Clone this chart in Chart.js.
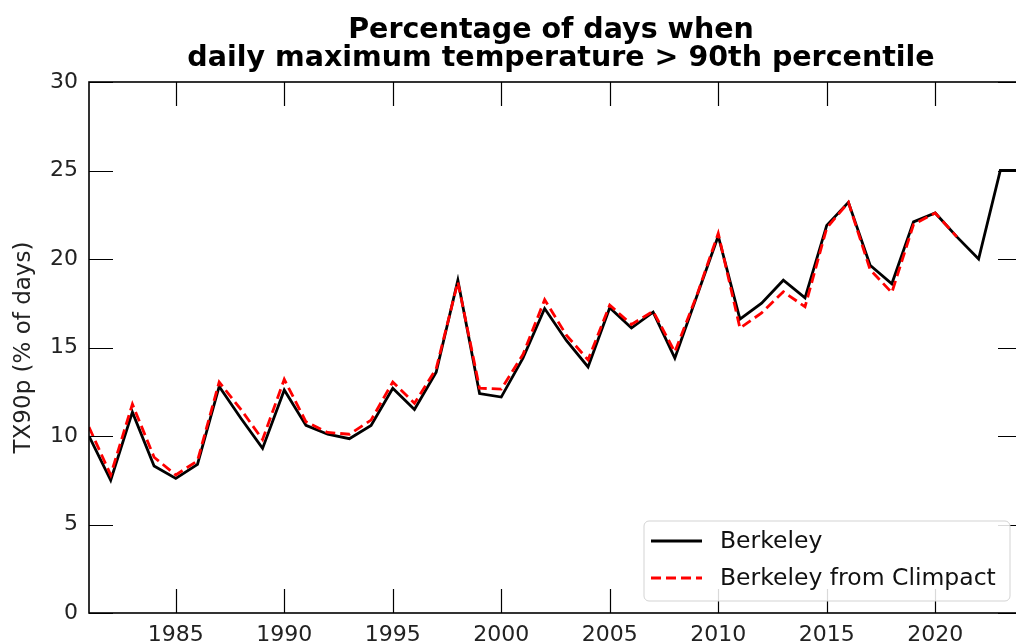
<!DOCTYPE html>
<html>
<head>
<meta charset="utf-8">
<script src="https://cdn.jsdelivr.net/npm/chart.js@4/dist/chart.umd.min.js"></script>
<style>
  html, body { margin: 0; padding: 0; background: #fff; overflow: hidden; }
  #wrap { width: 1040px; height: 643px; }
</style>
</head>
<body>
<div id="wrap"><canvas id="chart" width="1040" height="643"></canvas></div>
<script>
// Données
const years = [1981, 1982, 1983, 1984, 1985, 1986, 1987, 1988, 1989, 1990,
               1991, 1992, 1993, 1994, 1995, 1996, 1997, 1998, 1999, 2000,
               2001, 2002, 2003, 2004, 2005, 2006, 2007, 2008, 2009, 2010,
               2011, 2012, 2013, 2014, 2015, 2016, 2017, 2018, 2019, 2020,
               2021, 2022, 2023, 2024];
const berkeley = [10.0, 7.5, 11.35, 8.3, 7.6, 8.4, 12.8, 11.0, 9.3, 12.6,
                  10.6, 10.1, 9.85, 10.6, 12.7, 11.5, 13.6, 18.8, 12.4, 12.2,
                  14.4, 17.2, 15.4, 13.9, 17.25, 16.1, 17.0, 14.4, 17.85, 21.3,
                  16.6, 17.5, 18.8, 17.8, 21.9, 23.2, 19.65, 18.6, 22.1, 22.6,
                  21.25, 20.0, 25.0, 25.0];
const climpact = [10.5, 7.8, 11.8, 8.8, 7.8, 8.6, 13.05, 11.5, 9.8, 13.2,
                  10.8, 10.2, 10.1, 10.9, 13.05, 11.85, 13.8, 18.7, 12.7, 12.65,
                  14.6, 17.7, 15.7, 14.3, 17.4, 16.3, 17.05, 14.75, 17.9, 21.45,
                  16.1, 16.95, 18.15, 17.3, 21.75, 23.2, 19.4, 18.1, 21.95, 22.6,
                  21.25, null, null, null];
const xTicks = [1985, 1990, 1995, 2000, 2005, 2010, 2015, 2020];
const yTicks = [0, 5, 10, 15, 20, 25, 30];
const titleLines = ['Percentage of days when', 'daily maximum temperature > 90th percentile'];

const FONT = "'DejaVu Sans', sans-serif";

/**
 * Cadre, graduations intérieures, titre et légende (style matplotlib)
 */
const framePlugin = {
    id: 'frame',
    afterDraw(chart) {
        const ctx = chart.ctx;
        const area = chart.chartArea;
        const xs = chart.scales.x;
        const ys = chart.scales.y;
        const tickLen = 24;

        ctx.save();
        ctx.strokeStyle = '#000';

        // Graduations vers l'intérieur
        ctx.lineWidth = 1.2;
        ctx.beginPath();
        xs.ticks.forEach(t => {
            const px = Math.round(xs.getPixelForValue(t.value)) + 0.5;
            ctx.moveTo(px, area.bottom); ctx.lineTo(px, area.bottom - tickLen);
            ctx.moveTo(px, area.top); ctx.lineTo(px, area.top + tickLen);
        });
        ys.ticks.forEach(t => {
            const py = Math.round(ys.getPixelForValue(t.value)) + 0.5;
            ctx.moveTo(area.left, py); ctx.lineTo(area.left + tickLen, py);
            ctx.moveTo(area.right, py); ctx.lineTo(area.right - tickLen, py);
        });
        ctx.stroke();

        // Cadre
        ctx.lineWidth = 1.6;
        ctx.strokeRect(area.left, area.top, area.right - area.left, area.bottom - area.top);

        // Titre
        ctx.fillStyle = '#000';
        ctx.font = "bold 28.5px " + FONT;
        ctx.textAlign = 'center';
        ctx.textBaseline = 'alphabetic';
        ctx.fillText(titleLines[0], 551, 38);
        ctx.fillText(titleLines[1], 561, 66);

        // Légende
        const box = { x: 644, y: 521, w: 366, h: 80 };
        ctx.beginPath();
        ctx.roundRect(box.x, box.y, box.w, box.h, 5);
        ctx.fillStyle = 'rgba(255,255,255,0.85)';
        ctx.fill();
        ctx.strokeStyle = '#d3d3d3';
        ctx.lineWidth = 1;
        ctx.stroke();

        ctx.font = "23.5px " + FONT;
        ctx.textAlign = 'left';
        ctx.textBaseline = 'middle';
        ctx.fillStyle = '#111';
        const rows = [541, 578];
        chart.data.datasets.forEach((ds, i) => {
            const y = rows[i];
            ctx.beginPath();
            ctx.strokeStyle = ds.borderColor;
            ctx.lineWidth = ds.borderWidth;
            ctx.setLineDash(ds.borderDash || []);
            ctx.moveTo(651, y); ctx.lineTo(702, y);
            ctx.stroke();
            ctx.setLineDash([]);
            ctx.fillText(ds.label, 720, y + 1);
        });
        ctx.restore();
    }
};

const ctx = document.getElementById('chart').getContext('2d');
new Chart(ctx, {
    type: 'line',
    data: {
        datasets: [{
            label: 'Berkeley',
            data: years.map((yr, i) => ({ x: yr, y: berkeley[i] })),
            borderColor: '#000000',
            borderWidth: 2.8,
            pointRadius: 0,
            tension: 0,
            order: 1
        }, {
            label: 'Berkeley from Climpact',
            data: years.map((yr, i) => ({ x: yr, y: climpact[i] })),
            borderColor: '#ff0000',
            borderWidth: 2.8,
            borderDash: [10, 5],
            pointRadius: 0,
            tension: 0,
            spanGaps: false,
            order: 0
        }]
    },
    options: {
        responsive: false,
        animation: false,
        layout: { padding: { top: 82, right: 18, left: 0, bottom: 0 } },
        plugins: {
            legend: { display: false },
            title: { display: false },
            tooltip: { enabled: false }
        },
        scales: {
            x: {
                type: 'linear',
                min: 1981,
                max: 2024,
                afterBuildTicks: scale => { scale.ticks = xTicks.map(v => ({ value: v })); },
                afterFit: scale => { scale.height = 30; },
                grid: { display: false },
                border: { display: false },
                ticks: {
                    font: { family: FONT, size: 22 },
                    color: '#222',
                    padding: 1,
                    maxRotation: 0,
                    callback: v => String(v)
                }
            },
            y: {
                min: 0,
                max: 30,
                afterBuildTicks: scale => { scale.ticks = yTicks.map(v => ({ value: v })); },
                afterFit: scale => { scale.width = 89; },
                grid: { display: false },
                border: { display: false },
                title: {
                    display: true,
                    text: 'TX90p (% of days)',
                    font: { family: FONT, size: 23 },
                    color: '#222',
                    padding: { top: 10, bottom: 0 }
                },
                ticks: {
                    font: { family: FONT, size: 22 },
                    color: '#222',
                    padding: 3
                }
            }
        }
    },
    plugins: [framePlugin]
});
</script>
</body>
</html>
